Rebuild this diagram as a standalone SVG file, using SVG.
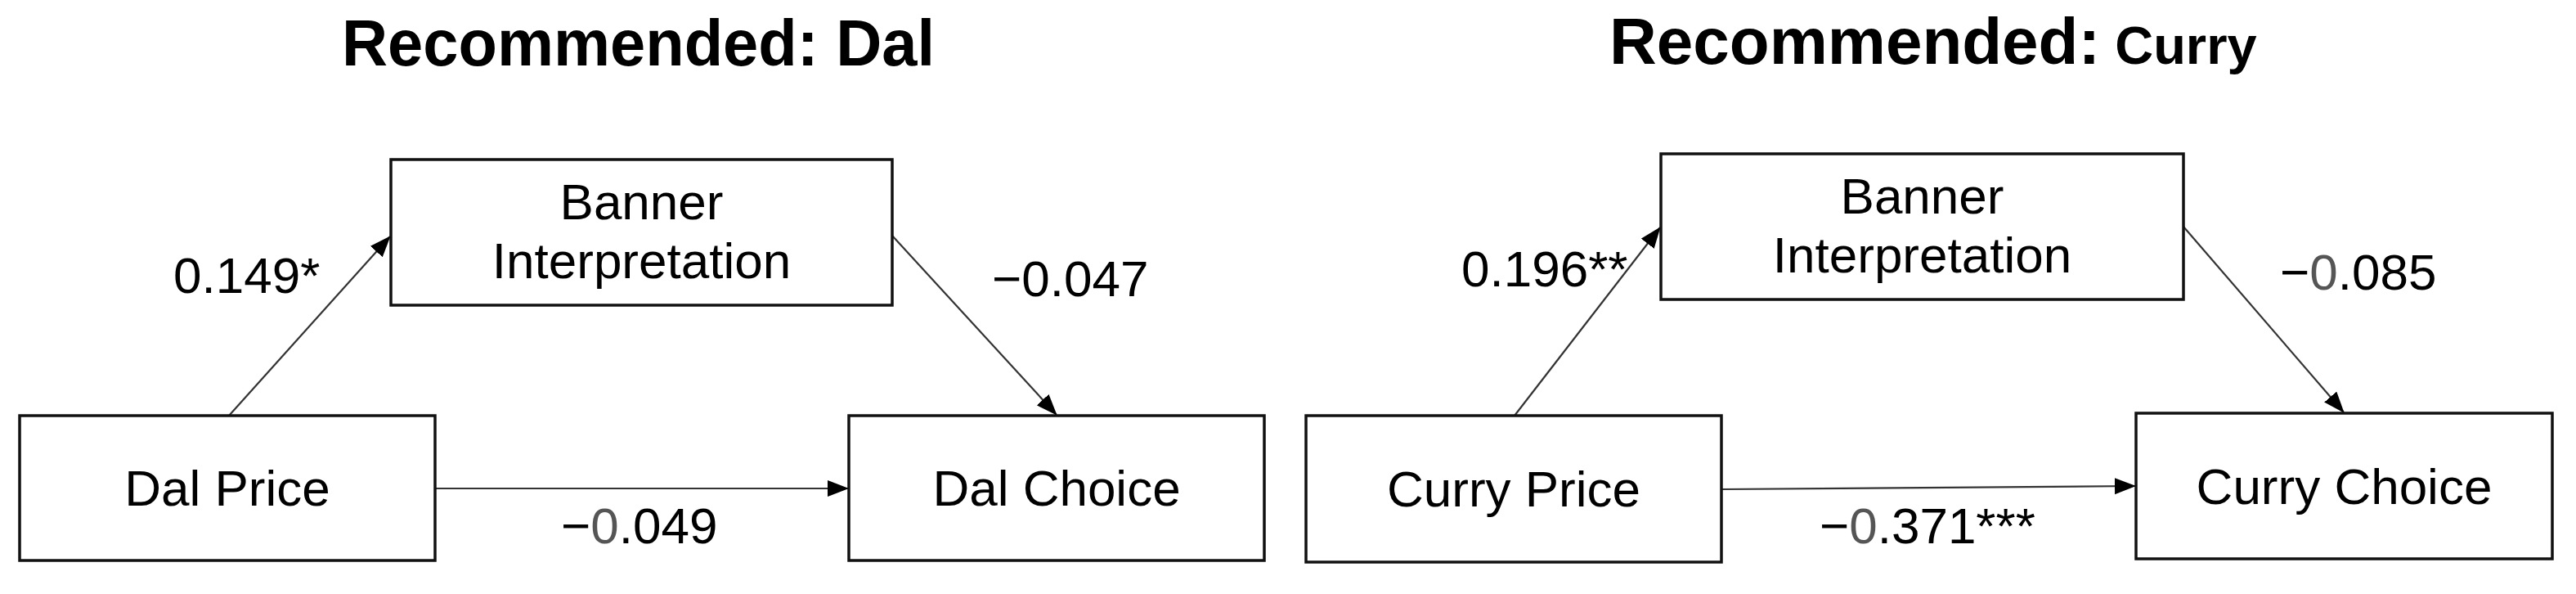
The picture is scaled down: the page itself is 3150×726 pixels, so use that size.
<svg xmlns="http://www.w3.org/2000/svg" width="3150" height="726" viewBox="0 0 3150 726">
<style>
.bg{fill:#ffffff}
.box{fill:#ffffff;stroke:#111111;stroke-width:3.5}
.lbl{font-family:"Liberation Sans",Arial,Helvetica,sans-serif;font-size:62px;fill:#000000}
.mid{text-anchor:middle}
.title{font-family:"Liberation Sans",Arial,Helvetica,sans-serif;font-weight:bold;font-size:80px;fill:#000000}
.edge{fill:none;stroke:#333333;stroke-width:2.2}
.g{fill:#555555}
</style>
<defs>
<marker id="arr" markerUnits="userSpaceOnUse" markerWidth="28" markerHeight="22" refX="25" refY="10" orient="auto">
<path d="M0,0 L26,10 L0,20 Z" fill="#000000"/>
</marker>
</defs>
<rect class="bg" x="0" y="0" width="3150" height="726"/>
<g id="titles">
<text class="title" x="418" y="80" textLength="725" lengthAdjust="spacingAndGlyphs">Recommended: Dal</text>
<text class="title" x="1968" y="78" font-size="78">Recommended:<tspan font-size="65"> Curry</tspan></text>
</g>
<g id="connectors">
<line class="edge" x1="280" y1="508" x2="477" y2="289" marker-end="url(#arr)"/>
<line class="edge" x1="1091" y1="288" x2="1292" y2="507" marker-end="url(#arr)"/>
<line class="edge" x1="532" y1="597" x2="1037" y2="597" marker-end="url(#arr)"/>
<line class="edge" x1="1852" y1="508" x2="2030" y2="278" marker-end="url(#arr)"/>
<line class="edge" x1="2670" y1="277" x2="2866" y2="504" marker-end="url(#arr)"/>
<line class="edge" x1="2105" y1="598" x2="2611" y2="594" marker-end="url(#arr)"/>
</g>
<g id="edge-labels">
<text class="lbl" x="212" y="358">0.149*</text>
<text class="lbl" x="1213" y="362">−0.047</text>
<text class="lbl" x="686" y="664">−<tspan class="g">0</tspan>.049</text>
<text class="lbl" x="1787" y="350">0.196**</text>
<text class="lbl" x="2788" y="354">−<tspan class="g">0</tspan>.085</text>
<text class="lbl" x="2225" y="664">−<tspan class="g">0</tspan>.371***</text>
</g>
<g id="dal-price">
<rect class="box" x="24" y="508" width="508" height="177"/>
<text class="lbl mid" x="278" y="618">Dal Price</text>
</g>
<g id="banner-dal">
<rect class="box" x="478" y="195" width="613" height="178"/>
<text class="lbl mid" x="784.5" y="268">Banner</text>
<text class="lbl mid" x="784.5" y="340">Interpretation</text>
</g>
<g id="dal-choice">
<rect class="box" x="1038" y="508" width="508" height="177"/>
<text class="lbl mid" x="1292" y="618">Dal Choice</text>
</g>
<g id="curry-price">
<rect class="box" x="1597" y="508" width="508" height="179"/>
<text class="lbl mid" x="1851" y="619">Curry Price</text>
</g>
<g id="banner-curry">
<rect class="box" x="2031" y="188" width="639" height="178"/>
<text class="lbl mid" x="2350.5" y="261">Banner</text>
<text class="lbl mid" x="2350.5" y="333">Interpretation</text>
</g>
<g id="curry-choice">
<rect class="box" x="2612" y="505" width="509" height="178"/>
<text class="lbl mid" x="2866.5" y="616">Curry Choice</text>
</g>
</svg>
